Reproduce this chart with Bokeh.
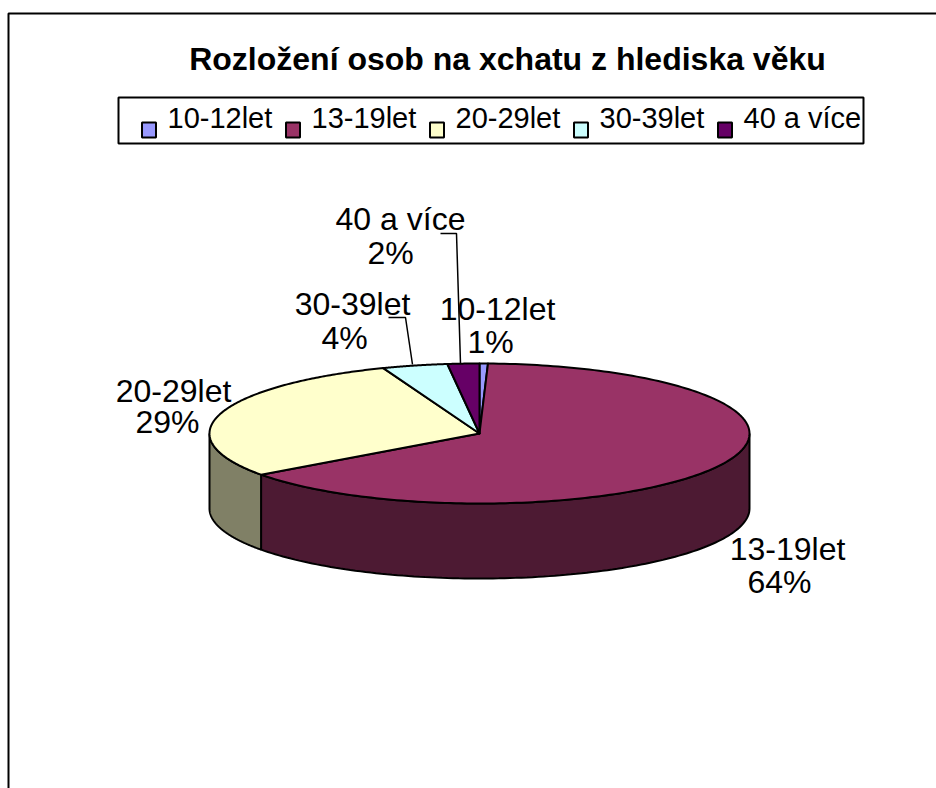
import numpy as np
from bokeh.plotting import figure
from bokeh.core.properties import value
from bokeh.embed import file_html
from bokeh.resources import INLINE

title = "Rozložení osob na xchatu z hlediska věku"
categories = ["10-12let", "13-19let", "20-29let", "30-39let", "40 a více"]
shares = [0.5, 64.5, 29.2, 3.9, 1.9]
share_labels = ["1%", "64%", "29%", "4%", "2%"]
colors = ["#9999FF", "#993366", "#FFFFCC", "#CCFFFF", "#660066"]
side_colors = ["#4D4D80", "#4D1A33", "#808066", "#668080", "#330033"]

FONT = value("Liberation Sans")
CX, CY, RX, RY, DEPTH = 479, 433, 270, 70, 75
W, H = 936, 788
LABEL_POS = [(497, 308, 490, 341), (787, 548, 779, 581), (173, 390, 167, 421), (352, 303, 344, 337), (400, 218, 390, 252)]
LEADERS = {4: [(440, 233), (456, 233), (460, 363)], 3: [(388, 317), (405, 317), (412, 364)]}

p = figure(width=W, height=H, x_range=(0, W), y_range=(H, 0),
           toolbar_location=None, output_backend="svg", min_border=0)
p.axis.visible = False
p.grid.visible = False
p.outline_line_color = None
p.background_fill_color = "white"
p.border_fill_color = "white"

# frame (open on the right and at the bottom)
p.line([8, 8, 940], [792, 13, 13], line_color="black", line_width=2)

# pie, drawn from the shares
fr = np.array(shares) / sum(shares)
edges = np.concatenate([[0], np.cumsum(fr)]) * 2 * np.pi
ex = lambda a: CX + RX * np.sin(a)
ey = lambda a: CY - RY * np.cos(a)

for i in range(len(shares)):
    a0, a1 = max(edges[i], np.pi / 2), min(edges[i + 1], 3 * np.pi / 2)
    if a1 <= a0:
        continue
    a = np.linspace(a0, a1, 120)
    xs = np.concatenate([ex(a), ex(a[::-1])])
    ys = np.concatenate([ey(a), ey(a[::-1]) + DEPTH])
    p.patch(xs, ys, fill_color=side_colors[i], line_color="black", line_width=2)

for i in range(len(shares)):
    a = np.linspace(edges[i], edges[i + 1], 200)
    xs = np.concatenate([[CX], ex(a)])
    ys = np.concatenate([[CY], ey(a)])
    p.patch(xs, ys, fill_color=colors[i], line_color="black", line_width=2, line_join="round")

# title
p.text([507], [58], text=[title], text_font=FONT, text_font_size="32px", text_font_style="bold",
       text_align="center", text_baseline="middle", text_color="black")

# legend
p.quad(left=[118], right=[863], top=[97], bottom=[143], fill_color="white", line_color="black", line_width=2)
for i, c in enumerate(categories):
    x0 = 141.5 + 144 * i
    p.quad(left=[x0], right=[x0 + 14], top=[122], bottom=[137], fill_color=colors[i], line_color="black", line_width=2)
    p.text([x0 + 25.5], [117], text=[c], text_font=FONT, text_font_size="29px",
           text_align="left", text_baseline="middle", text_color="black")

# leaders
for pts in LEADERS.values():
    p.line([q[0] for q in pts], [q[1] for q in pts], line_color="black", line_width=1.5)

# data labels
for i, (x1, y1, x2, y2) in enumerate(LABEL_POS):
    p.text([x1], [y1], text=[categories[i]], text_font=FONT, text_font_size="32px",
           text_align="center", text_baseline="middle", text_color="black")
    p.text([x2], [y2], text=[share_labels[i]], text_font=FONT, text_font_size="32px",
           text_align="center", text_baseline="middle", text_color="black")

open("out.html", "w").write(file_html(p, INLINE))
